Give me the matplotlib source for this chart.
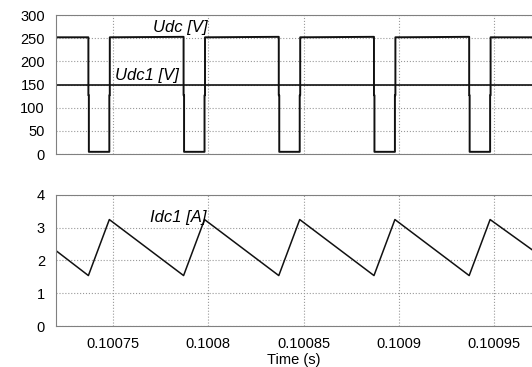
import numpy as np
import matplotlib.pyplot as plt

plt.rcParams['font.family'] = ['Liberation Sans', 'DejaVu Sans']

# Udc [V] square wave breakpoints (time in s, voltage in V)
udc_t = [0.10072,
         0.100737, 0.100737, 0.10073725, 0.10073725, 0.100748, 0.100748, 0.10074825, 0.10074825,
         0.100787, 0.100787, 0.10078725, 0.10078725, 0.100798, 0.100798, 0.10079825, 0.10079825,
         0.100837, 0.100837, 0.10083725, 0.10083725, 0.100848, 0.100848, 0.10084825, 0.10084825,
         0.100887, 0.100887, 0.10088725, 0.10088725, 0.100898, 0.100898, 0.10089825, 0.10089825,
         0.100937, 0.100937, 0.10093725, 0.10093725, 0.100948, 0.100948, 0.10094825, 0.10094825,
         0.10097]
udc_v = [252,
         252, 127, 127, 5, 5, 127, 127, 252,
         253, 127, 127, 5, 5, 127, 127, 252,
         253, 127, 127, 5, 5, 127, 127, 252,
         253, 127, 127, 5, 5, 127, 127, 252,
         253, 127, 127, 5, 5, 127, 127, 252,
         252]

# Udc1 [V] flat level
udc1_t = [0.10072, 0.10097]
udc1_v = [150, 150]

# Idc1 [A] sawtooth vertices
idc_t = [0.10072, 0.100737, 0.100748, 0.100787, 0.100798, 0.100837,
         0.100848, 0.100887, 0.100898, 0.100937, 0.100948, 0.10097]
idc_v = [2.30, 1.54, 3.25, 1.54, 3.25, 1.54,
         3.25, 1.54, 3.25, 1.54, 3.25, 2.33]

xticks = [0.10075, 0.1008, 0.10085, 0.1009, 0.10095]
xticklabels = ['0.10075', '0.1008', '0.10085', '0.1009', '0.10095']

fig = plt.figure(figsize=(5.32, 3.67), dpi=100)
ax1 = fig.add_axes([0.1053, 0.580, 0.8947, 0.379])
ax2 = fig.add_axes([0.1053, 0.1117, 0.8947, 0.357])

for ax in (ax1, ax2):
    ax.set_xlim(0.10072, 0.10097)
    ax.set_xticks(xticks)
    ax.grid(True, color='#999999', linestyle=':', linewidth=0.8)
    ax.tick_params(length=0, labelsize=10.5, pad=8)
    for s in ('left', 'bottom', 'top'):
        ax.spines[s].set_color('#808080')
    ax.spines['right'].set_visible(False)

ax1.plot(udc_t, udc_v, color='#111111', linewidth=1.4)
ax1.plot(udc1_t, udc1_v, color='#111111', linewidth=1.2)
ax1.set_ylim(0, 300)
ax1.set_yticks(range(0, 301, 50))
ax1.set_xticklabels([])
ax1.text(0.1007707, 263, 'Udc [V]', fontsize=12, style='italic')
ax1.text(0.1007509, 160, 'Udc1 [V]', fontsize=12, style='italic')

ax2.plot(idc_t, idc_v, color='#111111', linewidth=1.1)
ax2.set_ylim(0, 4)
ax2.set_yticks(range(0, 5))
ax2.set_xticklabels(xticklabels)
ax2.set_xlabel('Time (s)', fontsize=10.5, labelpad=1)
ax2.text(0.1007692, 3.18, 'Idc1 [A]', fontsize=12, style='italic')

fig.savefig('out.png', dpi=100)
